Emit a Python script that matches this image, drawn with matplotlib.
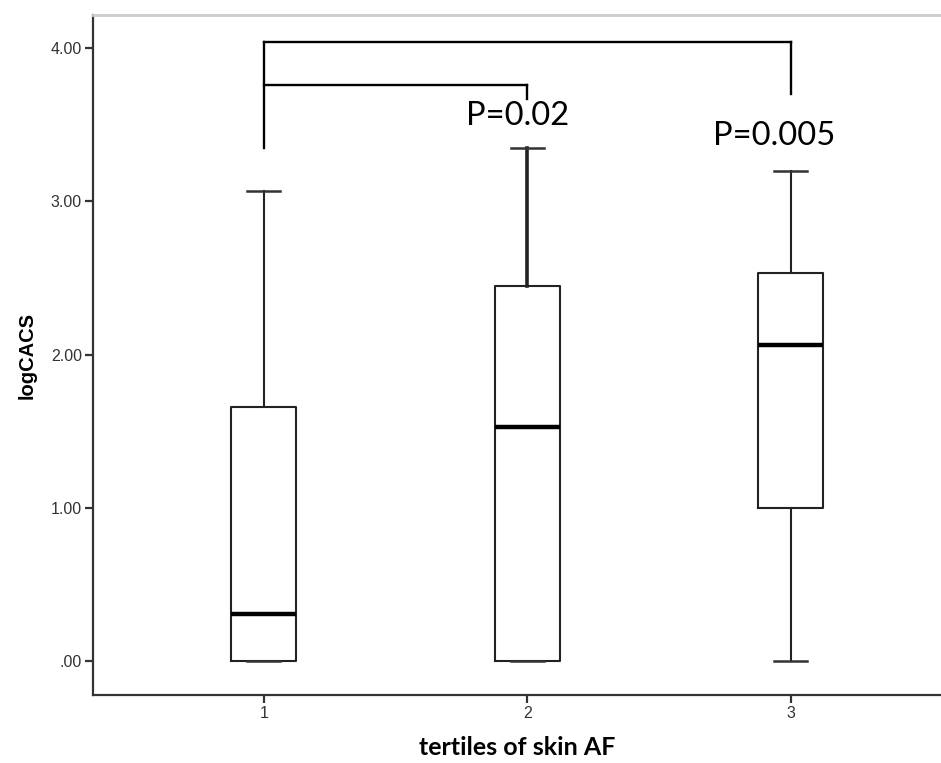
import matplotlib
matplotlib.use("Agg")
import matplotlib.pyplot as plt

# tertile groups and box statistics
groups = [1, 2, 3]
whisker_low = [0.0, 0.0, 0.0]
q1 = [0.0, 0.0, 1.00]
medians = [0.31, 1.53, 2.06]
q3 = [1.66, 2.45, 2.53]
whisker_high = [3.07, 3.35, 3.20]

yticks = [0, 1, 2, 3, 4]
ytick_labels = [".00", "1.00", "2.00", "3.00", "4.00"]

# comparison brackets: (left group, right group, height, left drop, right drop)
brackets = [
    (1, 3, 4.04, 3.35, 3.70),
    (1, 2, 3.76, None, 3.67),
]
p_labels = ["P=0.02", "P=0.005"]
p_label_x = [1.962, 2.935]
p_label_y = [3.556, 3.43]


def main():
    fig = plt.figure(figsize=(9.41, 7.63), dpi=100)
    ax = fig.add_axes([0.0988, 0.0891, 0.9012, 0.8909])

    stats = []
    for i in range(len(groups)):
        stats.append({
            "whislo": whisker_low[i], "q1": q1[i], "med": medians[i],
            "q3": q3[i], "whishi": whisker_high[i], "fliers": [],
        })

    bp = ax.bxp(stats, positions=groups, widths=0.247, showfliers=False,
                boxprops=dict(color="#222222", linewidth=1.5),
                whiskerprops=dict(color="#222222", linewidth=1.5),
                capprops=dict(color="#333333", linewidth=1.8),
                medianprops=dict(color="black", linewidth=3.2),
                capwidths=0.125)
    # the upper whisker of group 2 is drawn heavier in the original
    bp["whiskers"][3].set_linewidth(2.6)

    # brackets
    for left, right, h, ldrop, rdrop in brackets:
        ax.plot([left, right], [h, h], color="black", lw=1.7)
        if ldrop is not None:
            ax.plot([left, left], [h, ldrop], color="black", lw=1.7)
        ax.plot([right, right], [h, rdrop], color="black", lw=1.7)

    for x, y, s in zip(p_label_x, p_label_y, p_labels):
        ax.text(x, y, s, fontsize=23.5, family="Lato",
                ha="center", va="center")

    ax.set_xlim(0.351, 3.57)
    ax.set_ylim(-0.222, 4.215)
    ax.set_xticks(groups)
    ax.set_xticklabels([str(g) for g in groups], family="Liberation Sans",
                       fontsize=11.5, color="#333333")
    ax.set_yticks(yticks)
    ax.set_yticklabels(ytick_labels, family="Liberation Sans",
                       fontsize=11.5, color="#333333")
    ax.tick_params(direction="out", length=6, width=1.6, color="#333333",
                   pad=2)

    ax.spines["right"].set_visible(False)
    ax.spines["top"].set_color("#cccccc")
    ax.spines["top"].set_linewidth(2)
    for s in ["left", "bottom"]:
        ax.spines[s].set_color("#333333")
        ax.spines[s].set_linewidth(1.6)

    ax.set_ylabel("logCACS", family="Liberation Sans", fontweight="bold",
                  fontsize=14.5, labelpad=10)
    ax.set_xlabel("tertiles of skin AF", family="Lato", fontweight="bold",
                  fontsize=18, labelpad=11)

    fig.savefig("out.png", dpi=100)


main()
